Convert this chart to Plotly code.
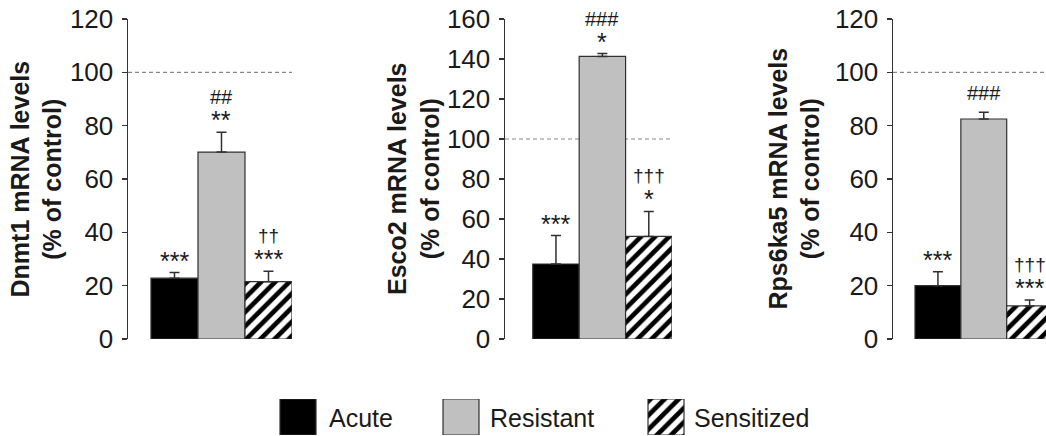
import plotly.graph_objects as go

# ---------------- data ----------------
groups = ["Acute", "Resistant", "Sensitized"]
genes = ["Dnmt1", "Esco2", "Rps6ka5"]

dnmt1_mean = [22.8, 70.1, 21.5]
dnmt1_err = [2.1, 7.4, 3.9]
esco2_mean = [37.5, 141.3, 51.3]
esco2_err = [14.2, 1.4, 12.5]
rps6ka5_mean = [20.0, 82.5, 12.4]
rps6ka5_err = [5.2, 2.5, 2.2]

dnmt1_sig = ["***", "##<br>**", "††<br>***"]
esco2_sig = ["***", "###<br>*", "†††<br>*"]
rps6ka5_sig = ["***", "###", "†††<br>***"]

y_max = [120, 160, 120]
y_dtick = 20
control_level = 100

# ---------------- styles ----------------
W, H = 1046, 436
bar_colors = {"Acute": "#000000", "Resistant": "#c0c0c0", "Sensitized": "#ffffff"}
bar_hatch = {"Acute": "", "Resistant": "", "Sensitized": "/"}
axis_color = "#333333"
text_color = "#1a1a1a"
edge_color = "#303030"
FONT = "Liberation Sans, Arial, sans-serif"

means = [dnmt1_mean, esco2_mean, rps6ka5_mean]
errs = [dnmt1_err, esco2_err, rps6ka5_err]
sigs = [dnmt1_sig, esco2_sig, rps6ka5_sig]


def marker_for(g):
    m = dict(color=bar_colors[g], line=dict(color=edge_color, width=1.2))
    if bar_hatch[g]:
        m["pattern"] = dict(shape=bar_hatch[g], fillmode="replace",
                            fgcolor="#000000", bgcolor="#ffffff",
                            size=10, solidity=0.47)
    return m


# panel geometry in pixels
panels = [
    dict(x0=128, x1=292, rng=[-0.989, 2.5], title_x=35.5),
    dict(x0=505, x1=672, rng=[-1.098, 2.5], title_x=413),
    dict(x0=893, x1=1046, rng=[-0.98, 2.357], title_x=793.5),
]
y_top_px, y_bot_px = 19, 339
ydom = [(H - y_bot_px) / H, (H - y_top_px) / H]

fig = go.Figure()
annotations = []
shapes = []

for i in range(3):
    ax = "" if i == 0 else str(i + 1)
    p = panels[i]
    for j, g in enumerate(groups):
        fig.add_trace(go.Bar(
            x=[g], y=[means[i][j]], name=g,
            xaxis="x" + ax, yaxis="y" + ax,
            width=1.0,
            marker=marker_for(g),
            error_y=dict(type="data", array=[errs[i][j]], arrayminus=[0],
                         symmetric=False, color=edge_color, thickness=1.5, width=5),
            showlegend=False, hoverinfo="skip",
        ))
    fig.update_layout(**{
        "xaxis" + ax: dict(domain=[p["x0"] / W, p["x1"] / W], range=p["rng"],
                           anchor="y" + ax, showline=False, showticklabels=False,
                           ticks="", showgrid=False, zeroline=False,
                           categoryorder="array", categoryarray=groups,
                           fixedrange=True, automargin=False),
        "yaxis" + ax: dict(domain=ydom, range=[0, y_max[i]], dtick=y_dtick, tick0=0,
                           anchor="x" + ax, showline=True, linecolor=axis_color,
                           linewidth=1.5, ticks="outside", ticklen=5, tickwidth=1.5,
                           tickcolor=axis_color, showgrid=False, zeroline=False,
                           ticklabelstandoff=3, automargin=False, fixedrange=True,
                           tickfont=dict(family=FONT, size=26, color=text_color)),
    })
    # y-axis title
    annotations.append(dict(
        x=p["title_x"] / W, y=(H - (y_top_px + y_bot_px) / 2) / H,
        xref="paper", yref="paper", xanchor="center", yanchor="middle",
        textangle=-90, showarrow=False,
        text="<b>%s mRNA levels<br>(%% of control)</b>" % genes[i],
        font=dict(family=FONT, size=25, color=text_color)))
    # dashed control line
    shapes.append(dict(type="line", xref="x%s domain" % ax, yref="y" + ax,
                       x0=0, x1=1, y0=control_level, y1=control_level,
                       line=dict(color="#888888", width=1.2, dash="4px,3px"),
                       layer="below"))
    # significance marks, one annotation per text line (bottom line first)
    for g, m, e, s in zip(groups, means[i], errs[i], sigs[i]):
        lines = s.split("<br>")[::-1]
        bottom = lines[0]
        if "*" in bottom:
            b_size, b_shift = 25, 12
        else:
            b_size, b_shift = 20, 19
        annotations.append(dict(x=g, y=m + e, xref="x" + ax, yref="y" + ax,
                                text=bottom, showarrow=False, yanchor="middle",
                                yshift=b_shift,
                                font=dict(family=FONT, size=b_size, color=text_color)))
        if len(lines) > 1:
            top = lines[1]
            t_size = 19 if "†" in top else 20
            t_shift = 36 if "†" in top else 35
            annotations.append(dict(x=g, y=m + e, xref="x" + ax, yref="y" + ax,
                                    text=top, showarrow=False, yanchor="middle",
                                    yshift=t_shift,
                                    font=dict(family=FONT, size=t_size, color=text_color)))

# ---------------- manual legend ----------------
legend_centers = [298, 461, 666]
legend_text_x = [327, 488, 692]
for g, cx in zip(groups, legend_centers):
    fig.add_trace(go.Bar(
        x=[cx], y=[1], width=36, xaxis="x4", yaxis="y4", name=g,
        marker=marker_for(g), showlegend=False, hoverinfo="skip",
    ))
fig.update_layout(
    xaxis4=dict(domain=[0, 1], range=[0, W], visible=False, fixedrange=True,
                anchor="y4", automargin=False),
    yaxis4=dict(domain=[1 / H, 37 / H], range=[0, 1], visible=False, fixedrange=True,
                anchor="x4", automargin=False),
)
for g, tx in zip(groups, legend_text_x):
    annotations.append(dict(x=tx / W, y=18 / H, xref="paper", yref="paper", text=g,
                            showarrow=False, xanchor="left", yanchor="middle",
                            font=dict(family=FONT, size=25, color=text_color)))

fig.update_layout(
    template="none",
    width=W, height=H,
    margin=dict(l=0, r=0, t=0, b=0, autoexpand=False),
    paper_bgcolor="white", plot_bgcolor="white",
    font=dict(family=FONT, color=text_color),
    bargap=0, barmode="overlay",
    annotations=annotations, shapes=shapes,
    showlegend=False,
)

fig.write_html("out.html",
               config={"displayModeBar": False, "staticPlot": True},
               post_script="document.body.style.margin='0';document.body.style.overflow='hidden';")
